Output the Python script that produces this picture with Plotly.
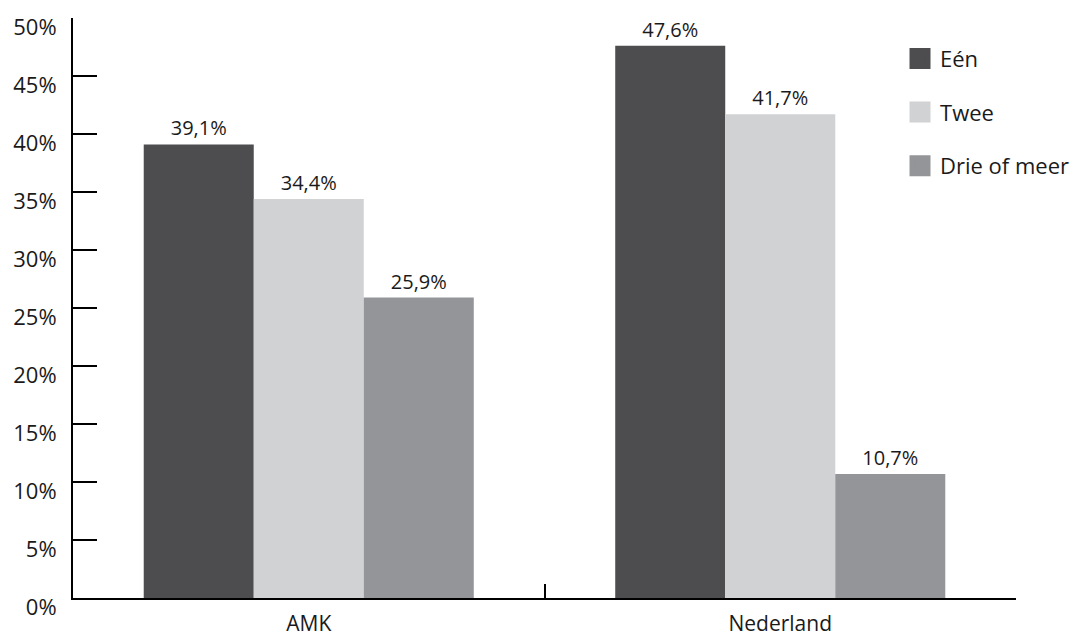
import plotly.graph_objects as go

categories = ["AMK", "Nederland"]
series_names = ["Eén", "Twee", "Drie of meer"]
een = [39.1, 47.6]
twee = [34.4, 41.7]
drie = [25.9, 10.7]
colors = ["#4d4d4f", "#d1d2d4", "#939598"]
y_ticks = [0, 5, 10, 15, 20, 25, 30, 35, 40, 45, 50]
y_tick_text = [f"{v}%" for v in y_ticks]

font_family = "Open Sans, Noto Sans, sans-serif"

fig = go.Figure()
for i, (name, vals, col) in enumerate(zip(series_names, [een, twee, drie], colors)):
    fig.add_trace(go.Bar(
        name=name, x=categories, y=vals, showlegend=False,
        marker=dict(color=col, line=dict(width=0)),
        texttemplate="%{y:.1f}%", textposition="outside",
        textfont=dict(size=20, color="#1a1a1a", family=font_family),
        cliponaxis=False,
    ))
    fig.add_trace(go.Scatter(
        name=name, x=[None], y=[None], mode="markers",
        legendgroup=f"g{i}",
        marker=dict(symbol="square", size=16, color=col, line=dict(color=col, width=6)),
    ))

fig.update_layout(
    width=1085, height=642,
    barmode="group", bargap=0.3, bargroupgap=0,
    separators=",.",
    plot_bgcolor="white", paper_bgcolor="white",
    margin=dict(l=65, r=77, t=10, b=52),
    font=dict(family=font_family, color="#1a1a1a", size=22),
    legend=dict(
        x=0.877, y=0.966, xanchor="left", yanchor="top",
        font=dict(size=22), tracegroupgap=22, itemsizing="trace",
        bgcolor="rgba(0,0,0,0)", itemwidth=30,
    ),
    xaxis=dict(
        showline=True, linecolor="black", linewidth=2,
        ticks="inside", tickson="boundaries", ticklen=14, tickwidth=2, tickcolor="black",
        showgrid=False, tickfont=dict(size=21), automargin=False,
        ticklabelstandoff=6,
    ),
    yaxis=dict(
        range=[0, 50], tickvals=y_ticks, ticktext=y_tick_text,
        showline=True, linecolor="black", linewidth=2,
        ticks="inside", ticklen=24, tickwidth=2, tickcolor="black",
        showgrid=False, zeroline=False, tickfont=dict(size=22),
        ticklabelshift=9, ticklabelstandoff=10, automargin=False,
    ),
)

fig.write_html("out.html")
